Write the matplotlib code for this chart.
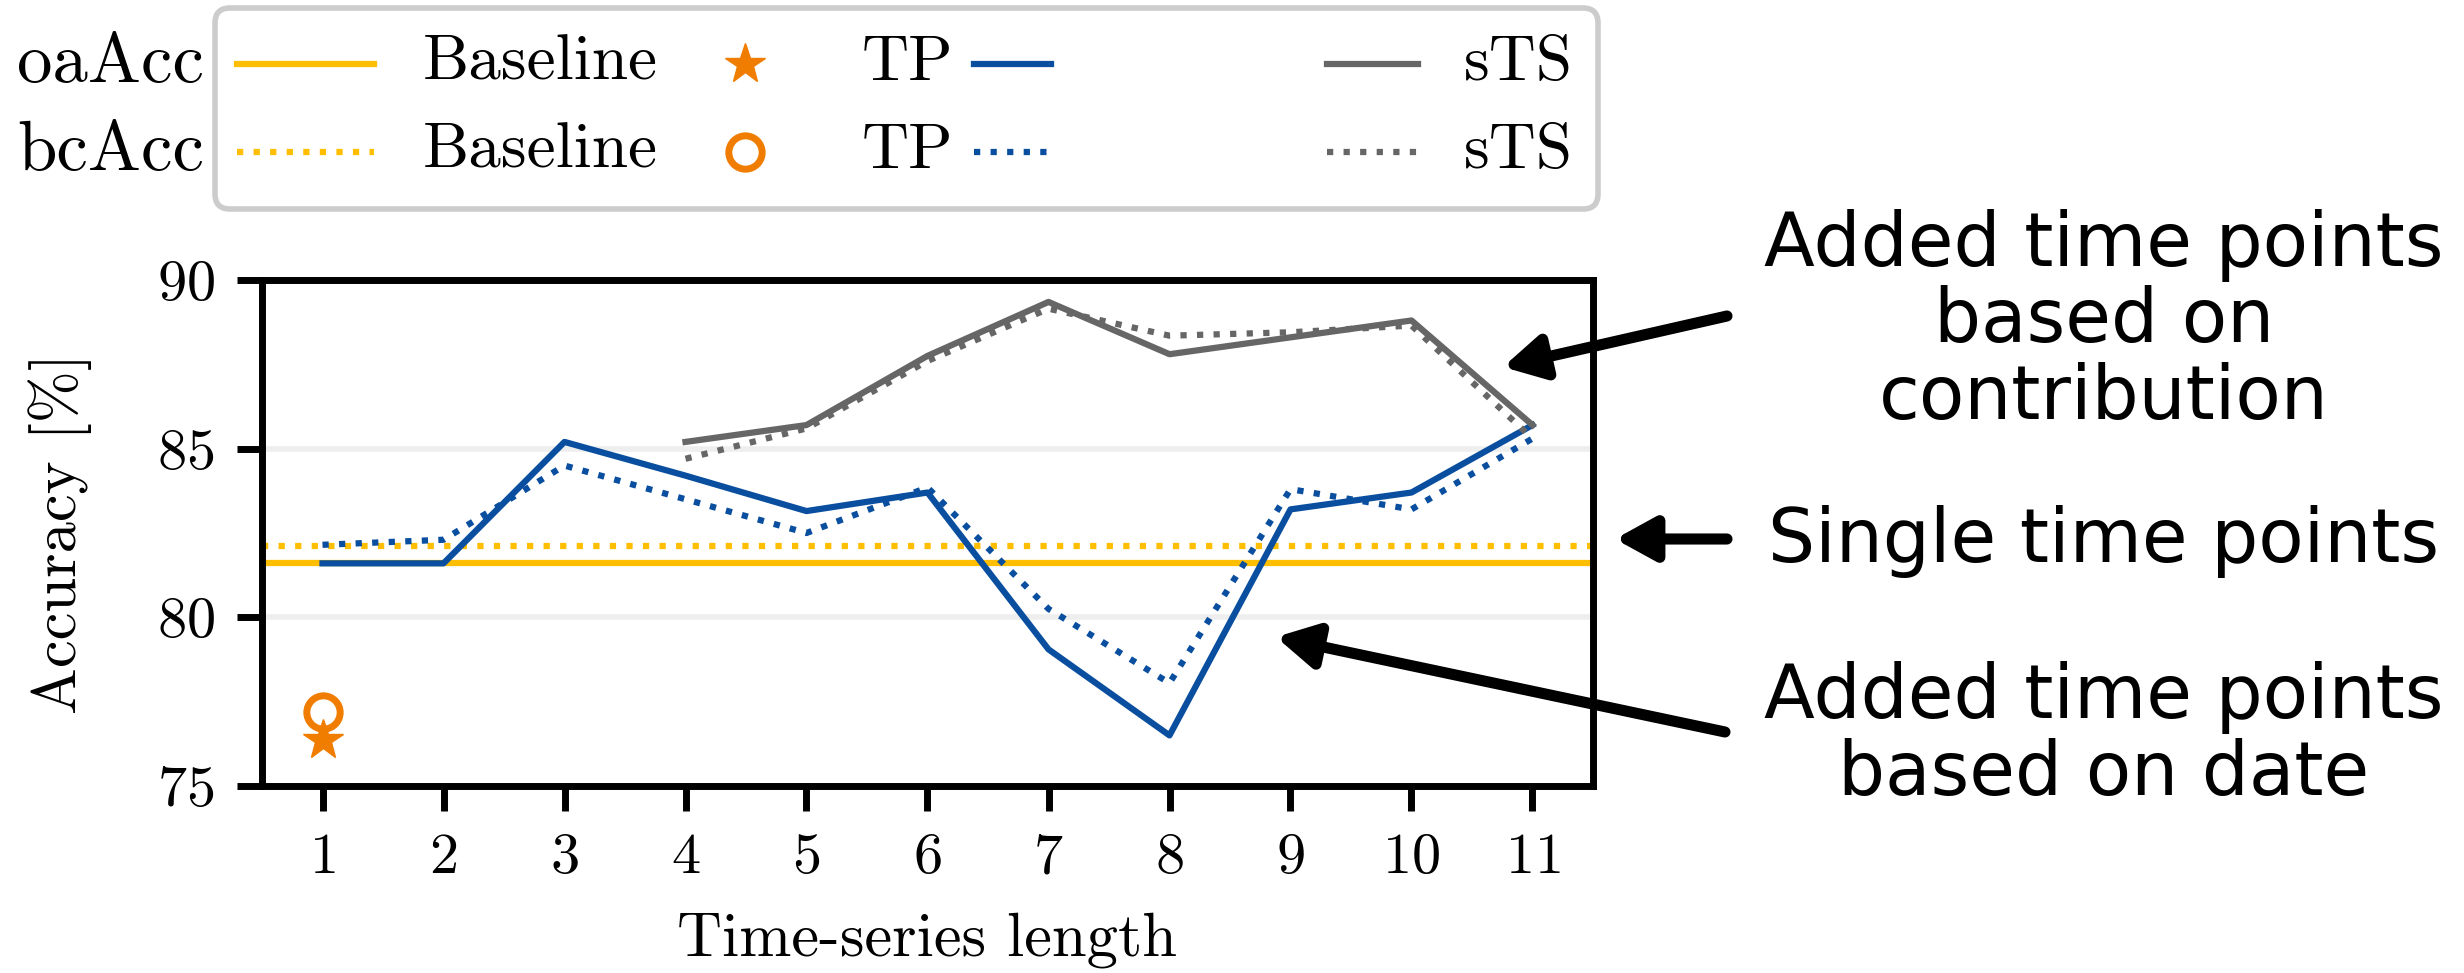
import matplotlib
matplotlib.use("Agg")
import matplotlib.pyplot as plt
from matplotlib.lines import Line2D
from matplotlib.patches import FancyBboxPatch, FancyArrowPatch

plt.rcParams["font.family"] = "serif"
plt.rcParams["font.serif"] = ["cmr10"]
plt.rcParams["mathtext.fontset"] = "cm"
plt.rcParams["axes.formatter.use_mathtext"] = True

# data
lengths = [1, 2, 3, 4, 5, 6, 7, 8, 9, 10, 11]
sts_lengths = [4, 5, 6, 7, 8, 9, 10, 11]
baseline_oa = 81.6
baseline_bc = 82.12
single_oa = 76.35   # star at length 1
single_bc = 77.2    # circle at length 1
tp_oa = [81.6, 81.6, 85.2, 84.2, 83.15, 83.7, 79.05, 76.5, 83.2, 83.7, 85.7]
tp_bc = [82.15, 82.3, 84.5, 83.5, 82.5, 83.85, 80.25, 78.05, 83.8, 83.2, 85.3]
sts_oa = [85.2, 85.7, 87.75, 89.35, 87.8, 88.3, 88.8, 85.7]
sts_bc = [84.7, 85.6, 87.6, 89.15, 88.35, 88.45, 88.65, 85.3]

yellow = "#ffbf00"
orange = "#f07d00"
blue = "#0a4f9f"
gray = "#666666"

W, H = 2464, 973
fig = plt.figure(figsize=(W / 100, H / 100), dpi=100)
ax = fig.add_axes([262 / W, 1 - 786 / H, (1593 - 262) / W, (786 - 280) / H])

def fx(x):
    return x / W

def fy(y):
    return 1 - y / H

lw = 4.5
ax.axhline(baseline_oa, color=yellow, lw=lw, zorder=2)
ax.axhline(baseline_bc, color=yellow, lw=lw, ls=":", zorder=2)
ax.plot(lengths, tp_oa, color=blue, lw=lw, zorder=3)
ax.plot(lengths, tp_bc, color=blue, lw=lw, ls=":", zorder=3)
ax.plot(sts_lengths, sts_oa, color=gray, lw=lw, zorder=3)
ax.plot(sts_lengths, sts_bc, color=gray, lw=lw, ls=":", zorder=3)
ax.plot([1], [single_bc], marker="o", ms=24, mfc="none", mec=orange, mew=5, ls="none", zorder=4)
ax.plot([1], [single_oa], marker="*", ms=30, color=orange, ls="none", zorder=4)

ax.set_xlim(0.5, 11.5)
ax.set_ylim(75, 90)
ax.set_xticks(lengths)
ax.set_yticks([75, 80, 85, 90])
ax.yaxis.grid(True, color="#eeeeee", lw=4, zorder=0)
ax.set_axisbelow(True)
for s in ax.spines.values():
    s.set_linewidth(5)
ax.tick_params(axis="both", length=18, width=5, labelsize=42, pad=16)
ax.set_xlabel("Time-series length", fontsize=45)
ax.set_ylabel("Accuracy [%]", fontsize=45)
ax.xaxis.set_label_coords(0.5, -0.25)
ax.yaxis.set_label_coords(-0.128, 0.5)

# custom legend
box = FancyBboxPatch((215 / 100, (H - 209) / 100), (1598 - 215) / 100, (209 - 8) / 100,
                     boxstyle="round,pad=0,rounding_size=0.15", transform=fig.dpi_scale_trans,
                     facecolor="white", edgecolor="#cccccc", lw=4)
fig.add_artist(box)
rows = [(64, "-", "oaAcc", "*"), (152, ":", "bcAcc", "o")]
for y, ls, name, mk in rows:
    fig.text(fx(204), fy(y), name, fontsize=51, ha="right", va="center")
    fig.add_artist(Line2D([fx(237), fx(374)], [fy(y), fy(y)], color=yellow, lw=lw, ls=ls))
    fig.text(fx(423), fy(y), "Baseline", fontsize=47, ha="left", va="center")
    if mk == "*":
        fig.add_artist(Line2D([fx(745)], [fy(y)], marker="*", ms=30, color=orange, ls="none"))
    else:
        fig.add_artist(Line2D([fx(745)], [fy(y)], marker="o", ms=24, mfc="none", mec=orange, mew=5, ls="none"))
    fig.text(fx(862), fy(y), "TP", fontsize=47, ha="left", va="center")
    fig.add_artist(Line2D([fx(974), fx(1051)], [fy(y), fy(y)], color=blue, lw=lw, ls=ls))
    fig.add_artist(Line2D([fx(1327), fx(1418)], [fy(y), fy(y)], color=gray, lw=lw, ls=ls))
    fig.text(fx(1464), fy(y), "sTS", fontsize=47, ha="left", va="center")

# annotations
notes = [("Added time points\nbased on\ncontribution", 322, (1727, 316), (1503, 367)),
         ("Single time points", 542, (1727, 539), (1615, 539)),
         ("Added time points\nbased on date", 736, (1725, 732), (1276, 637))]
for txt, ty, tail, tip in notes:
    fig.text(fx(2104), fy(ty), txt, fontsize=53.5, family="DejaVu Sans", ha="center", va="center",
             linespacing=1.07)
    fig.add_artist(FancyArrowPatch(
        (fx(tail[0]), fy(tail[1])), (fx(tip[0]), fy(tip[1])), transform=fig.transFigure,
        arrowstyle="-|>,head_length=0.4,head_width=0.22", mutation_scale=60,
        color="black", lw=8, shrinkA=0, shrinkB=0))

fig.savefig("out.png", dpi=100)
